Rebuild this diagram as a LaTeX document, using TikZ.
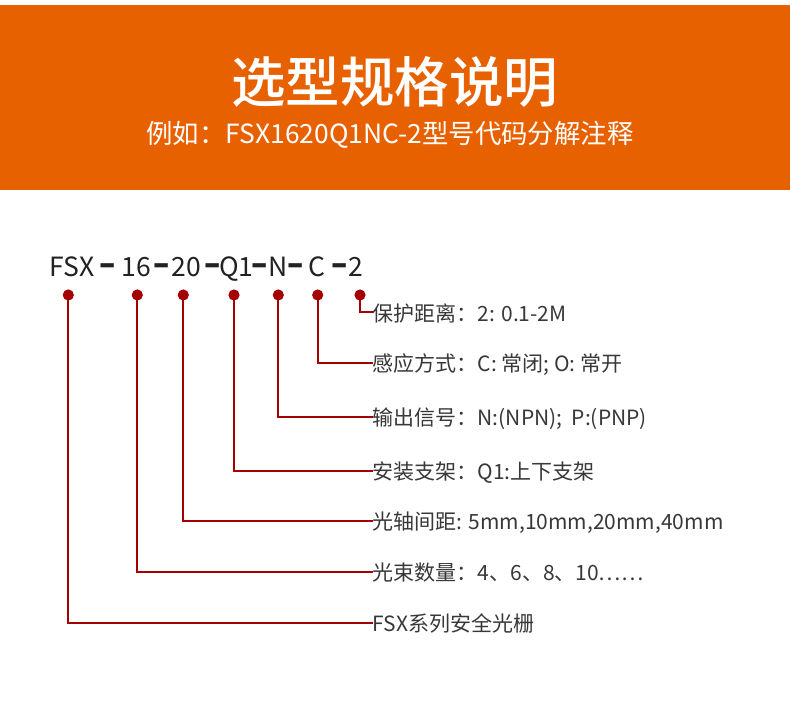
\documentclass[tikz,border=0pt]{standalone}
\usepackage{fontspec}
\setmainfont{Noto Sans CJK SC}
\newfontfamily\cjk{Noto Sans CJK SC}
\newfontfamily\cjkmed{Noto Sans CJK SC Medium}
\definecolor{bandorange}{HTML}{E86100}
\definecolor{linkred}{HTML}{A50000}
\definecolor{labgray}{HTML}{383838}
\definecolor{codegray}{HTML}{222222}
\tikzset{
  title/.style={text=white, inner sep=0pt, anchor=base, font=\cjkmed\fontsize{54.5}{60}\selectfont},
  subtitle/.style={text=white, inner sep=0pt, anchor=base, font=\cjk\fontsize{26.4}{30}\selectfont},
  codepart/.style={text=codegray, inner sep=0pt, anchor=base, font=\cjk\fontsize{26.5}{30}\selectfont},
  codedash/.style={text=codegray, inner sep=0pt, anchor=base, font=\cjk\bfseries\fontsize{26.5}{30}\selectfont},
  dotmark/.style={circle, fill=linkred, inner sep=0pt, minimum size=11.2pt},
  lab/.style={text=labgray, inner sep=0pt, anchor=base west, font=\cjk\fontsize{21}{26}\selectfont},
  link/.style={draw=linkred, line width=1.8pt},
}
\newcommand\codedashmark{\scalebox{1.12}[1.4]{–}}
\begin{document}
\begin{tikzpicture}[x=1pt,y=-1pt]
\useasboundingbox (0,0) rectangle (790,708);
\fill[white] (0,0) rectangle (790,708);
\fill[bandorange] (0,5) rectangle (790,190.5);
\node[title] (t) at (394.5,103) {选型规格说明};
\node[subtitle] (st) at (390,144) {例如：FSX1620Q1NC-2型号代码分解注释};
% code line
\node[codepart] (cFSX) at (71.7,276.7) {FSX};
\node[codedash] (k1) at (107.5,276.7) {\codedashmark};
\node[codepart] (c16) at (136.3,276.7) {16};
\node[codedash] (k2) at (161.8,276.7) {\codedashmark};
\node[codepart] (c20) at (186,276.7) {20};
\node[codedash] (k3) at (212.6,276.7) {\codedashmark};
\node[codepart] (cQ) at (236.5,276.7) {Q1};
\node[codedash] (k4) at (259.8,276.7) {\codedashmark};
\node[codepart] (cN) at (278.5,276.7) {N};
\node[codedash] (k5) at (295.8,276.7) {\codedashmark};
\node[codepart] (cC) at (317,276.7) {C};
\node[codedash] (k6) at (339.2,276.7) {\codedashmark};
\node[codepart] (c2) at (355.7,276.7) {2};
% labels
\node[lab] (l1) at (372.5,321.3) {保护距离：2: 0.1-2M};
\node[lab] (l2) at (372.5,371.7) {感应方式：C: 常闭; O: 常开};
\node[lab] (l3) at (372.5,425.7) {输出信号：N:(NPN);\ \ P:(PNP)};
\node[lab] (l4) at (372.5,479.7) {安装支架：Q1:上下支架};
\node[lab] (l5) at (372.5,529.7) {光轴间距: 5mm,10mm,20mm,40mm};
\node[lab] (l6) at (372.5,580.7) {光束数量：4、6、8、10……};
\node[lab] (l7) at (372.5,631.7) {FSX系列安全光栅};
% dots
\node[dotmark] (d1) at (360,295) {};
\node[dotmark] (d2) at (317.7,295) {};
\node[dotmark] (d3) at (278.3,295) {};
\node[dotmark] (d4) at (234,295) {};
\node[dotmark] (d5) at (183.3,295) {};
\node[dotmark] (d6) at (137.3,295) {};
\node[dotmark] (d7) at (68.3,295) {};
% connectors
\draw[link] (d1.center) |- ([yshift=9pt]l1.base west);
\draw[link] (d2.center) |- ([yshift=9pt]l2.base west);
\draw[link] (d3.center) |- ([yshift=9pt]l3.base west);
\draw[link] (d4.center) |- ([yshift=9pt]l4.base west);
\draw[link] (d5.center) |- ([yshift=9pt]l5.base west);
\draw[link] (d6.center) |- ([yshift=9pt]l6.base west);
\draw[link] (d7.center) |- ([yshift=9pt]l7.base west);
\end{tikzpicture}
\end{document}
